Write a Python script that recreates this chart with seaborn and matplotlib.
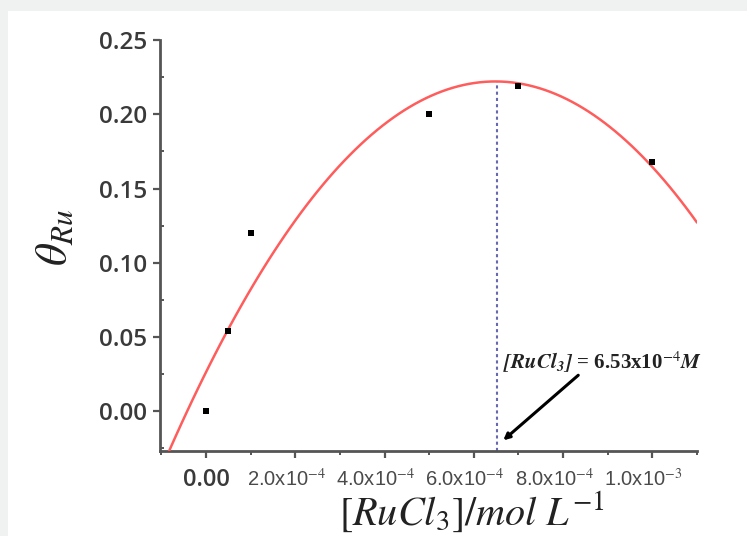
import numpy as np
import pandas as pd
import matplotlib
matplotlib.use("Agg")
import matplotlib.pyplot as plt
from matplotlib.patches import Rectangle
from matplotlib.ticker import MultipleLocator
from matplotlib.transforms import ScaledTranslation
import seaborn as sns

# measured coverage vs. RuCl3 concentration
conc = [0.0, 5e-5, 1e-4, 5e-4, 7e-4, 1e-3]
theta = [0.0, 0.054, 0.12, 0.20, 0.219, 0.168]

x_ticks = [0.0, 2e-4, 4e-4, 6e-4, 8e-4, 1e-3]
x_ticklabels = ["0.00", r"2.0x10$^{-4}$", r"4.0x10$^{-4}$", r"6.0x10$^{-4}$",
                r"8.0x10$^{-4}$", r"1.0x10$^{-3}$"]
y_ticks = [0.0, 0.05, 0.10, 0.15, 0.20, 0.25]
y_ticklabels = ["0.00", "0.05", "0.10", "0.15", "0.20", "0.25"]

c_opt = 6.53e-4      # optimum concentration from the fit
theta_max = 0.222    # fitted maximum

df = pd.DataFrame({"conc": conc, "theta": theta})

sns.set_style("ticks")
plt.rcParams["mathtext.fontset"] = "stix"

fig = plt.figure(figsize=(7.47, 5.36), dpi=100)
fig.patch.set_facecolor("#f0f2f2")
fig.add_artist(Rectangle((8 / 747, 0), 1, 1 - 11 / 536, transform=fig.transFigure,
                         facecolor="white", edgecolor="none", zorder=-10))

ax = fig.add_axes([160 / 747, 1 - 451 / 536, 537 / 747, 411 / 536])
ax.set_facecolor("white")
ax.set_xlim(-1.03e-4, 1.10e-3)
ax.set_ylim(-0.0267, 0.25)

sns.regplot(data=df, x="conc", y="theta", order=2, ci=None, truncate=False, ax=ax,
            marker="s",
            scatter_kws={"s": 24, "color": "black", "linewidths": 0, "alpha": 1,
                         "zorder": 4},
            line_kws={"color": "#ff5c5c", "lw": 1.8, "zorder": 3})

ax.vlines(c_opt, -0.0267, theta_max, colors="#6868b0", linestyles=(0, (1.5, 1.5)),
          lw=1.5, zorder=2)

# label + pointer for the optimum
ax.text(6.66e-4, 0.033, r"$\mathbfit{[RuCl_3]}$ = 6.53x10$^{-4}$$\mathbfit{M}$",
        fontsize=15, family="Liberation Serif", fontweight="bold", color="#222222",
        va="center", ha="left", zorder=5)
ax.annotate("", xy=(6.66e-4, -0.0195), xytext=(8.34e-4, 0.0243),
            arrowprops=dict(arrowstyle="-|>", color="black", lw=2.2,
                            shrinkA=0, shrinkB=0, mutation_scale=9),
            annotation_clip=False, zorder=5)

ax.set_xticks(x_ticks)
ax.set_xticklabels(x_ticklabels)
ax.set_yticks(y_ticks)
ax.set_yticklabels(y_ticklabels)
ax.xaxis.set_minor_locator(MultipleLocator(1e-4))
ax.yaxis.set_minor_locator(MultipleLocator(0.025))

ax.tick_params(axis="both", which="major", direction="out", length=5, width=1.6,
               color="#555555")
ax.tick_params(axis="y", which="major", pad=4)
ax.tick_params(axis="x", which="major", pad=7)
ax.tick_params(axis="x", which="minor", direction="out", length=3, width=1.4,
               color="#555555")
ax.tick_params(axis="y", which="minor", direction="in", length=3, width=1.4,
               color="#555555")

for lab in ax.get_yticklabels():
    lab.set_fontfamily("Open Sans")
    lab.set_fontweight("semibold")
    lab.set_fontsize(17.5)
    lab.set_color("#3a3a3a")
# the exponent labels sit a little left of their ticks in the original
shift = ScaledTranslation(-9 / 100, 0, fig.dpi_scale_trans)
for i, lab in enumerate(ax.get_xticklabels()):
    if i == 0:
        lab.set_fontfamily("Open Sans")
        lab.set_fontweight("semibold")
        lab.set_fontsize(17)
        lab.set_color("#3a3a3a")
    else:
        lab.set_fontfamily("Liberation Sans")
        lab.set_fontsize(14.5)
        lab.set_color("#4a4a4a")
        lab.set_transform(lab.get_transform() + shift)

sns.despine(ax=ax)
for side in ("left", "bottom"):
    ax.spines[side].set_linewidth(2)
    ax.spines[side].set_color("#555555")

ax.set_xlabel(r"$[RuCl_3]/mol\ L^{-1}$", fontsize=29, color="#222222", va="center")
ax.xaxis.set_label_coords(0.58, -0.149)
ax.set_ylabel(r"$\theta_{Ru}$", fontsize=32, color="#222222", va="center")
ax.yaxis.set_label_coords(-0.196, 0.52)

fig.savefig("out.png", dpi=100, facecolor=fig.get_facecolor())
